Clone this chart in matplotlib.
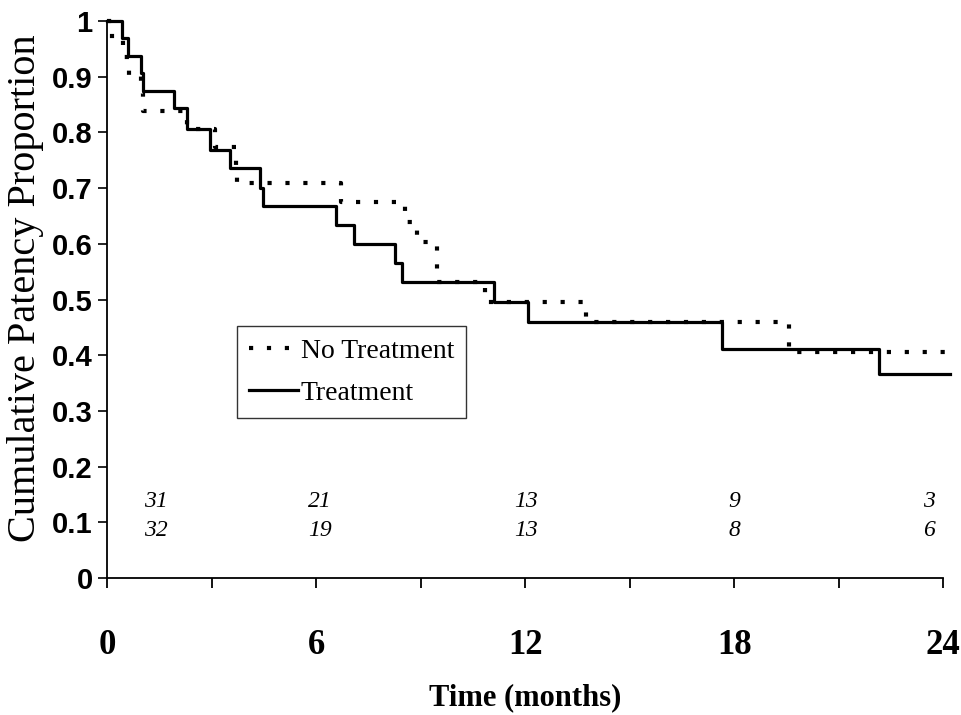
import matplotlib

matplotlib.use("Agg")
import matplotlib.pyplot as plt
from matplotlib.ticker import FixedLocator

# Kaplan-Meier steps (months, cumulative patency)
treat_t = [0, 0.41, 0.60, 0.96, 1.03, 1.92, 2.30, 2.95, 3.53, 4.39, 4.48,
           6.57, 7.09, 8.25, 8.46, 11.09, 12.07, 17.66, 22.17, 24.2]
treat_s = [1.0, 0.969, 0.938, 0.906, 0.875, 0.844, 0.806, 0.768, 0.736, 0.70, 0.668,
           0.634, 0.600, 0.566, 0.532, 0.496, 0.460, 0.412, 0.367, 0.367]

notreat_t = [0, 0.15, 0.45, 0.62, 0.98, 1.02, 2.30, 3.10, 3.70, 3.73,
             6.72, 8.55, 8.89, 9.47, 10.85, 13.73, 19.57, 24.2]
notreat_s = [1.0, 0.968, 0.935, 0.903, 0.871, 0.839, 0.806, 0.774, 0.742, 0.710,
             0.675, 0.640, 0.604, 0.532, 0.495, 0.460, 0.406, 0.406]

# numbers at risk
risk_t = [1.40, 6.11, 12.03, 18.0, 23.6]
risk_notreat = ["31", "21", "13", "9", "3"]
risk_treat = ["32", "19", "13", "8", "6"]

ytick_vals = [0, 0.1, 0.2, 0.3, 0.4, 0.5, 0.6, 0.7, 0.8, 0.9, 1.0]
ytick_labels = ["0", "0.1", "0.2", "0.3", "0.4", "0.5", "0.6", "0.7", "0.8", "0.9", "1"]
xtick_major = [0, 6, 12, 18, 24]
xtick_minor = [3, 9, 15, 21]

SERIF = "Liberation Serif"
SANS = "Liberation Sans"

fig = plt.figure(figsize=(9.62, 7.15), dpi=100)
ax = fig.add_axes([0.1115, 0.1916, 0.869, 0.779])

ax.step(notreat_t, notreat_s, where="post", color="black", lw=3.0,
        linestyle=(0, (1.0, 3.3)), clip_on=False, label="No Treatment")
ax.step(treat_t, treat_s, where="post", color="black", lw=2.3,
        clip_on=False, label="Treatment")

for x, a, b in zip(risk_t, risk_notreat, risk_treat):
    ax.text(x, 0.137, a, ha="center", va="center", fontsize=17,
            family=SERIF, style="italic")
    ax.text(x, 0.086, b, ha="center", va="center", fontsize=17,
            family=SERIF, style="italic")

ax.set_xlim(0, 24)
ax.set_ylim(0, 1)
for side in ["top", "right"]:
    ax.spines[side].set_visible(False)
for side in ["left", "bottom"]:
    ax.spines[side].set_linewidth(1.3)

ax.set_yticks(ytick_vals)
ax.set_yticklabels(ytick_labels, fontsize=21, family=SANS, fontweight="bold")
ax.set_xticks(xtick_major)
ax.set_xticklabels([str(v) for v in xtick_major], fontsize=25, family=SERIF,
                   fontweight="bold")
ax.xaxis.set_minor_locator(FixedLocator(xtick_minor))
ax.tick_params(axis="y", direction="out", length=6.5, width=1.2, pad=4)
ax.tick_params(axis="x", which="both", direction="out", length=7, width=1.3, pad=30)

leg = ax.legend(loc="lower left", bbox_to_anchor=(0.1548, 0.2867), borderaxespad=0,
                prop={"family": SERIF, "size": 20}, frameon=True, fancybox=False,
                handlelength=1.75, handletextpad=0.1, labelspacing=0.6,
                borderpad=0.45)
leg.get_frame().set_edgecolor("black")
leg.get_frame().set_linewidth(1.0)

fig.text(0.026, 0.597, "Cumulative Patency Proportion", rotation=90, ha="center",
         va="center", fontsize=29, family=SERIF)
fig.text(0.546, 0.024, "Time (months)", ha="center", va="center", fontsize=22,
         family=SERIF, fontweight="bold")

fig.savefig("out.png", dpi=100)
